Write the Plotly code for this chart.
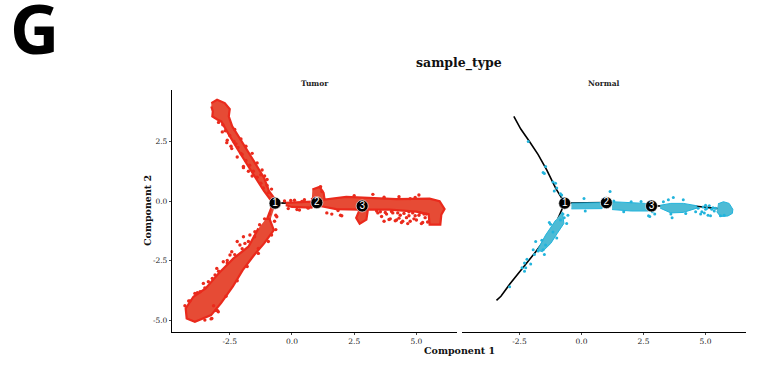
import plotly.graph_objects as go

TUMOR_FILL = "#E64B35"
TUMOR_EDGE = "#EA2A1C"
NORMAL_FILL = "#4DBBD5"
NORMAL_EDGE = "#22B4DC"
SERIF = "DejaVu Serif"

x_ticks = [-2.5, 0.0, 2.5, 5.0]
y_ticks = [-5.0, -2.5, 0.0, 2.5]
tick_labels_x = ["-2.5", "0.0", "2.5", "5.0"]
tick_labels_y = ["-5.0", "-2.5", "0.0", "2.5"]

node_x = [-0.68, 1.0, 2.82]
node_y = [-0.09, -0.07, -0.21]
node_labels = ["1", "2", "3"]

traj_upper_x = [-2.73, -2.45, -2.1, -1.75, -1.4, -1.05, -0.68]
traj_upper_y = [3.55, 3.02, 2.5, 1.95, 1.3, 0.55, -0.09]
traj_lower_x = [-3.43, -3.25, -2.9, -2.4, -1.9, -1.4, -1.0, -0.68]
traj_lower_y = [-4.17, -4.0, -3.5, -2.85, -2.2, -1.5, -0.85, -0.09]
traj_trunk_x = [-0.68, 0.2, 1.0, 2.0, 2.82, 3.8, 4.63, 5.3, 5.97]
traj_trunk_y = [-0.09, -0.08, -0.07, -0.15, -0.21, -0.2, -0.22, -0.3, -0.36]

tumor_upper_x = [-3.24,-3.01,-2.70,-2.50,-2.54,-2.40,-2.06,-1.73,-1.40,-1.12,-0.92,-0.67,-0.88,-1.12,-1.46,-1.84,-2.17,-2.57,-2.84,-3.0,-3.2,-3.18,-3.24]
tumor_upper_y = [4.11,4.25,4.11,3.86,3.55,3.13,2.57,2.01,1.45,0.97,0.41,0.06,0.08,0.41,0.97,1.59,2.15,2.85,3.34,3.42,3.55,3.76,3.97]
tumor_lower_x = [-0.95,-0.73,-1.12,-1.52,-1.98,-2.38,-2.85,-3.25,-3.90,-4.23,-4.27,-3.96,-3.47,-2.95,-2.35,-1.75,-1.35]
tumor_lower_y = [-0.62,-1.22,-1.78,-2.27,-2.90,-3.60,-4.29,-4.79,-5.07,-4.93,-4.51,-4.02,-3.67,-3.04,-2.41,-1.92,-1.15]
tumor_neck_x = [-0.68,-0.8,-1.0,-0.85]
tumor_neck_y = [-0.2,-0.2,-0.75,-0.75]
tumor_stem_x = [-0.25,0.78,0.78,0.0,-0.25]
tumor_stem_y = [-0.08,-0.03,-0.28,-0.25,-0.18]
tumor_trunk_x = [0.82,1.11,1.27,1.31,2.18,3.12,4.19,5.53,5.93,6.13,6.00,5.96,5.53,5.49,4.99,3.92,3.05,2.99,2.72,2.58,2.72,1.78,1.18,0.84,0.80]
tumor_trunk_y = [0.48,0.59,0.34,0.06,0.17,0.13,0.08,0.10,-0.01,-0.34,-0.57,-0.99,-0.99,-0.55,-0.45,-0.36,-0.36,-0.78,-0.95,-0.71,-0.36,-0.34,-0.22,-0.22,0.13]

tumor_pts_x = [-2.95,-2.8,-2.62,-2.45,-2.25,-2.05,-1.95,-1.25,-1.1,-1.0,-0.95,-2.6,-2.42,-2.2,-1.95,-1.75,-1.6,
               -2.78,-2.68,-2.5,-2.33,-2.17,-2.0,-1.85,-1.7,-1.55,-1.4,-1.25,-1.15,-2.3,-2.05,-1.85,-1.6,-1.4,-1.2,-1.0,-0.82,
               -3.90,-3.69,-3.56,-3.36,-3.09,-3.02,-2.76,-2.49,-2.42,-2.09,-1.89,-1.69,-1.49,-2.96,-3.22,-0.82,-1.35,-0.61,
               -4.1,-3.8,-3.5,-3.2,-2.95,-2.6,-2.3,-2.0,-1.75,-1.5,-1.3,-1.1,-0.65,-0.95,-1.35,-1.8,-2.2,-2.65,-3.05,-3.5,
               -4.3,-4.15,-3.25,-3.0,-3.15,-2.6,-2.2,-1.95,-0.9,-0.65,-0.7,
               -0.3,-0.15,0.1,0.3,0.5,0.65,0.2,0.4,-0.05,
               1.15,1.2,1.4,1.6,1.85,1.95,2.0,2.5,3.25,3.7,4.3,4.95,5.1,4.75,
               3.45,3.6,3.8,3.95,4.05,4.2,4.35,4.45,4.6,4.75,4.85,5.0,5.1,5.25,5.35,5.45,3.7,3.9,4.15,4.4,4.65,4.9,5.2,4.3,4.7,5.4,
               3.55,3.75,4.0,4.25,4.5,4.7,4.95,5.15,5.3,3.4]
tumor_pts_y = [3.3,2.9,2.45,2.3,2.4,2.0,1.45,1.1,1.05,0.65,0.35,2.55,2.2,1.85,1.4,1.25,1.05,
               3.2,2.95,2.75,2.5,2.25,1.95,1.7,1.5,1.25,1.0,0.75,0.55,3.0,2.6,2.3,2.0,1.6,1.3,0.9,0.5,
               -3.88,-3.81,-3.46,-3.39,-3.11,-2.83,-2.55,-2.27,-2.13,-1.85,-1.78,-1.43,-1.29,-4.65,-4.93,-1.43,-1.99,-0.66,
               -4.2,-3.85,-3.65,-3.25,-2.95,-2.5,-2.25,-2.0,-1.7,-1.5,-1.0,-0.75,-1.2,-1.7,-2.2,-2.75,-3.35,-4.0,-4.6,-5.0,
               -4.4,-4.2,-4.95,-4.6,-4.4,-2.6,-1.7,-1.5,-0.55,-0.6,-0.85,
               0.0,-0.32,0.03,-0.38,0.05,-0.3,-0.36,-0.02,0.02,
               0.6,0.4,-0.5,-0.55,-0.4,-0.6,-0.62,0.22,0.28,0.16,0.18,0.15,0.25,0.1,
               -0.5,-0.65,-0.55,-0.75,-0.5,-0.8,-0.6,-0.85,-0.7,-0.85,-0.5,-0.8,-0.6,-0.9,-0.7,-0.88,-0.85,-0.78,-0.83,-0.9,-0.95,-0.75,-0.95,-0.72,-0.62,-0.55,
               -0.45,-0.48,-0.44,-0.5,-0.52,-0.45,-0.62,-0.5,-0.55,-0.42]

normal_lower_x = [-0.78,-0.71,-0.98,-1.24,-1.58,-1.78,-1.45,-1.04]
normal_lower_y = [-0.45,-0.94,-1.36,-1.78,-2.13,-2.06,-1.43,-0.80]
normal_stem_x = [-0.41,0.83,0.83,-0.41]
normal_stem_y = [-0.09,-0.07,-0.32,-0.33]
normal_trunk_x = [1.23,2.0,2.55,2.70,2.70,2.0,1.23]
normal_trunk_y = [-0.03,-0.07,-0.1,-0.15,-0.42,-0.42,-0.36]
normal_mid_x = [3.17,3.6,4.1,4.65,4.65,4.1,3.6,3.17]
normal_mid_y = [-0.18,-0.1,-0.1,-0.2,-0.3,-0.48,-0.5,-0.3]
normal_end_x = [5.5,5.72,5.95,6.1,6.08,5.9,5.6,5.45]
normal_end_y = [-0.12,-0.03,-0.1,-0.35,-0.52,-0.63,-0.65,-0.45]

normal_pts_x = [-2.15,-1.45,-1.55,-1.5,-1.15,-1.05,-1.1,-1.0,-0.85,-0.8,-0.75,
                -0.55,-0.75,-0.7,-0.85,-0.6,-1.3,-1.25,-1.15,-1.0,-1.85,-1.6,-1.45,-1.55,-1.95,-1.75,-1.9,-1.5,
                -2.2,-2.3,-2.25,-2.05,-2.4,-2.3,-2.9,
                0.1,0.15,1.15,0.95,1.3,1.7,2.0,2.4,2.7,2.75,2.95,2.85,3.3,3.65,3.7,3.5,3.6,4.1,4.2,
                4.7,4.85,5.0,5.1,5.0,4.8,5.15,5.3,5.35,4.95,5.6,5.75,5.2,4.6,4.9,5.05,5.25,5.4]
normal_pts_y = [2.5,1.45,1.2,1.15,0.8,0.75,0.42,0.55,0.3,0.25,0.1,
                -0.6,-0.55,-0.7,-0.8,-0.95,-0.9,-0.98,-1.3,-1.55,-1.7,-1.65,-1.85,-2.05,-2.05,-2.1,-2.25,-2.25,
                -2.45,-2.6,-2.8,-2.65,-2.8,-2.95,-3.6,
                0.1,-0.42,0.4,0.12,0.0,-0.45,-0.03,-0.02,-0.62,-0.65,-0.55,-0.45,-0.03,-0.7,0.15,0.05,-0.55,0.05,-0.52,
                -0.3,-0.45,-0.18,-0.6,-0.35,-0.55,-0.2,-0.28,-0.42,-0.5,-0.62,-0.6,-0.62,-0.45,-0.25,-0.3,-0.35,-0.3]


def poly(x, y, fill, edge, xa, ya, width):
    return go.Scatter(x=x, y=y, xaxis=xa, yaxis=ya, mode="lines", fill="toself", fillcolor=fill,
                      line=dict(color=edge, width=width), hoverinfo="skip")


def line(x, y, xa, ya):
    return go.Scatter(x=x, y=y, xaxis=xa, yaxis=ya, mode="lines",
                      line=dict(color="black", width=1.6), hoverinfo="skip")


def pts(x, y, color, xa, ya, size):
    return go.Scatter(x=x, y=y, xaxis=xa, yaxis=ya, mode="markers",
                      marker=dict(color=color, size=size, line=dict(width=0)))


def nodes(xa, ya):
    return go.Scatter(x=node_x, y=node_y, xaxis=xa, yaxis=ya, mode="markers+text",
                      marker=dict(color="black", size=12, line=dict(color="white", width=0.6)),
                      text=node_labels, textposition="middle center",
                      textfont=dict(color="white", size=10, family="Liberation Sans"))


fig = go.Figure()
for xa, ya in [("x", "y"), ("x2", "y2")]:
    fig.add_trace(line(traj_upper_x, traj_upper_y, xa, ya))
    fig.add_trace(line(traj_lower_x, traj_lower_y, xa, ya))
    fig.add_trace(line(traj_trunk_x, traj_trunk_y, xa, ya))

for px, py in [(tumor_upper_x, tumor_upper_y), (tumor_lower_x, tumor_lower_y), (tumor_neck_x, tumor_neck_y),
               (tumor_stem_x, tumor_stem_y), (tumor_trunk_x, tumor_trunk_y)]:
    fig.add_trace(poly(px, py, TUMOR_FILL, TUMOR_EDGE, "x", "y", 2.2))
fig.add_trace(pts(tumor_pts_x, tumor_pts_y, TUMOR_EDGE, "x", "y", 3.4))

for px, py in [(normal_lower_x, normal_lower_y), (normal_stem_x, normal_stem_y), (normal_trunk_x, normal_trunk_y),
               (normal_mid_x, normal_mid_y), (normal_end_x, normal_end_y)]:
    fig.add_trace(poly(px, py, NORMAL_FILL, NORMAL_EDGE, "x2", "y2", 1))
fig.add_trace(pts(normal_pts_x, normal_pts_y, NORMAL_EDGE, "x2", "y2", 3))

fig.add_trace(nodes("x", "y"))
fig.add_trace(nodes("x2", "y2"))

W, H = 760, 365
tickfont = dict(family=SERIF, size=7.5, color="#222222")
xcommon = dict(range=[-4.82, 6.63], tickvals=x_ticks, ticktext=tick_labels_x, showgrid=False, zeroline=False,
               showline=True, linecolor="black", linewidth=1.3, ticks="outside", ticklen=2, tickwidth=0.8,
               tickfont=tickfont)


def label(text, px, py, size, family=SERIF, color="#111111", angle=0):
    return dict(text=f"<b>{text}</b>", x=px/W, y=1-py/H, xref="paper", yref="paper", xanchor="center",
                yanchor="middle", showarrow=False, textangle=angle,
                font=dict(family=family, size=size, color=color))


fig.update_layout(
    width=W, height=H, autosize=False, showlegend=False, plot_bgcolor="white", paper_bgcolor="white",
    margin=dict(l=0, r=0, t=0, b=0),
    xaxis=dict(domain=[172/W, 457/W], anchor="y", **xcommon),
    xaxis2=dict(domain=[462/W, 746/W], anchor="y2", **xcommon),
    yaxis=dict(domain=[1-332/H, 1-90/H], range=[-5.5, 4.66], tickvals=y_ticks, ticktext=tick_labels_y,
               showgrid=False, zeroline=False, showline=True, linecolor="black", linewidth=1.3,
               ticks="outside", ticklen=2, tickwidth=0.8, tickfont=tickfont, anchor="x"),
    yaxis2=dict(domain=[1-332/H, 1-90/H], range=[-5.5, 4.66], visible=False, anchor="x2"),
    annotations=[
        label("G", 34, 27, 68, family="Open Sans", color="black"),
        label("sample_type", 459, 63, 12.5),
        label("Tumor", 315, 83, 7.5, color="#222222"),
        label("Normal", 604, 83, 7.5, color="#222222"),
        label("Component 1", 459, 350, 9.5),
        label("Component 2", 148, 211, 9.5, angle=-90),
    ],
)
fig.write_html("out.html", config=dict(displayModeBar=False),
               post_script="document.body.style.margin='0';document.documentElement.style.overflow='hidden';")
